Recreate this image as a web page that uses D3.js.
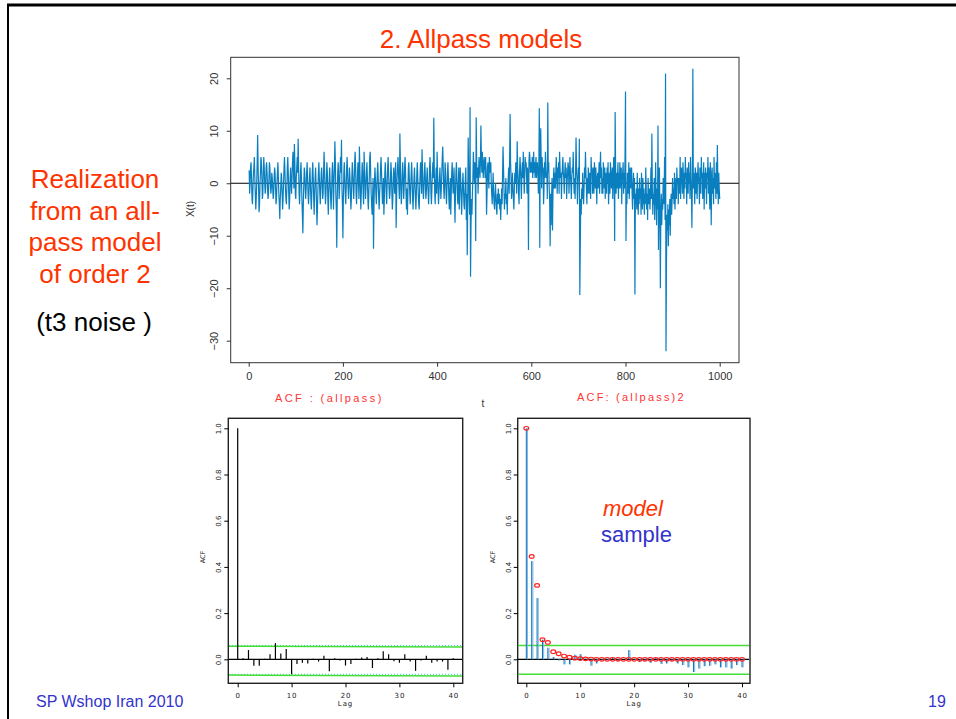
<!DOCTYPE html>
<html>
<head>
<meta charset="utf-8">
<script src="https://d3js.org/d3.v7.min.js"></script>
<style>body{margin:0;background:#fff;overflow:hidden}</style>
</head>
<body>
<script>
// realization X(t), t = 1..1000
var xt = [
2.5,-2,0,3,4,1,-3,-4,-1,2, 3,5,1,-2,-5,-3,0,4,9.2,3, -1,-5.5,-4,0,2,5,4,1,-3,-2, 2,5,3,0,-2,-1,3,4,2,-1, -3,-2,1,4,3,0,-2,-1,2,1,
-1,-3,-2,1,3,2,-1,-4,-3,0, 2,4,1,-2,-4,-6.8,-3,-1,2,1, -2,-5,-3,0,3,5,2,-1,-3,-4, -1,3,5,2,-2,-5,-3,1,3,0, -2,1,4,6,3,-1,7.5,4,-2,-3,
1,3,5,2,8.5,3,-2,-4,-1,2, 4,1,-3,-6,-9.5,-4,0,3,2,-1, -3,-1,2,4,1,-2,-4,-2,1,3, 0,-3,-5,-2,2,4,1,-3,-6,-2, 1,3,0,-4,-8,-5,-1,2,4,1,
-2,-4,-1,2,3,0,-3,-2,2,6, 3,-1,-4,-2,1,4,2,-3,-6,-2, 1,3,0,-3,-5,-2,2,4,1,-5, 0,3,8,4,-2,-5,-12.3,-3,2,4, 1,-3,-1,3,5,2,8.3,-1,-4,-10.5,
-3,2,4,1,-2,-4,-1,3,5,2, -1,-3,0,3,1,-2,-5,-3,1,4, 2,-1,-3,0,4,6,3,-2,-4,-1, 2,4,1,-3,7,3,-1,-5,-2,1, 4,2,-2,-4,6,3,0,-3,-1,2,
4,1,-3,-5,-2,1,5,6,2,-2, -4,-6,-3,1,-12.5,-4,0,3,1,-2, -4,-1,2,4,1,-3,-5,-2,0,3, 5,2,-1,-4,-2,1,-6,-3,2,4, 1,-2,-4,0,3,5,2,-1,-3,-2,
1,4,2,-2,-5,-3,1,3,0,-2, 2,4,-8.5,-3,1,3,5,2,-1,-3, 9.5,4,-1,-4,-2,2,4,1,-3,-1, 3,5,2,-2,-5,-1,-6,-2,3,4, 1,-2,-4,-1,2,4,1,-3,-5,-2,
1,3,0,-3,-5,-2,2,4,1,-2, -4,-5,-1,2,4,1,-2,6.5,3,-1, -3,-1,2,4,1,-3,-2,1,3,0, -2,-4,-1,3,5,2,-2,-4,-1,2, 4,1,12.5,3,-2,-4,0,3,-2,6,
2,-1,-4,-2,1,3,0,-3,-1,2, 5,7,3,-1,-3,0,4,2,-2,-4, -1,2,4,1,-3,-5,-2,1,-6,-2, 2,4,1,-2,0,3,-3,-7.5,-2,2, 4,1,-2,-4,-1,3,-5,-2,3,1,
-2,-6,-3,0,2,-1,-4,-5,-2,1, 3,-7,-2,-13.7,-4,8.7,2,-3,-6,14.5, -17.8,-8,-3,-6,-2,1,6,3,0,4, 2,-11,12.6,4,1,3,-2,2,5,3, 1,4,11,5,2,6,3,1,4,5,
3,1,5,2,-6,-2,3,4,1,-1, 5,3,2,4,0,-2,-4,-1,2,-2, -4,-5,-2,0,-3,-5,-6,-2,-4,-1, -4,-2,-5,-3,-7,-4,-1,-4,2,7, 3,-1,-5,-2,-3,1,-4,-2,-6,-1,
1,3,-2,5,13.2,4,1,-3,-1,2, -1,-3,-5,-1,2,0,4,1,-2,8, 3,1,-2,-4,2,5,3,0,-3,2, 4,1,6,2,-2,1,5,3,4,1, -2,3,1,-12.7,4,6,5,2,3,4,
2,5,1,3,6,2,4,1,3,5, 1,3,4,2,-2,3,14.3,-12.3,6,10.5, 4,-1,5,2,3,-4,-1,4,1,6, 3,1,2,-3,15.4,2,4,-1,-3,-12, -2,-8,-3,1,-9,-2,1,3,-1,2,
-1,2,5,1,-2,3,1,4,-2,6, 3,1,2,-3,1,3,5,2,1,-2, 2,4,1,3,-3,0,2,4,3,-2, 1,5,2,0,-3,1,3,2,6,1, -2,1,-3,2,8.7,3,1,-4,-1,3,
1,8.5,-21.3,-12,-3,-6,-1,-3,2,-2, -4,-1,3,1,6,2,-1,-4,1,-2, 3,1,-2,2,0,-3,5,2,3,-2, 1,3,-2,4,2,-1,3,0,-4,1, 2,-1,1,4,-2,2,6,1,3,-2,
1,-2,4,2,-1,3,-3,1,2,-2, 3,0,4,-4,-1,2,-2,4,2,-1, 1,3,-3,1,5,2,-11,13.6,3,-2, 2,-1,1,4,-3,2,-1,4,1,-1, 3,-4,1,2,4,-2,2,-1,5,17.5,
-11,-2,-4,2,1,-2,4,-3,1,3, -1,1,3,-2,-5,-1,2,-3,1,-21.2, -2,-4,-1,-5,2,-2,-6,-1,-4,1, -3,-1,-6,2,-2,-5,1,-4,-1,-6, -2,-4,3,-1,-5,-2,-7,1,-3,-4,
-1,-5,-2,3,-3,9.5,-1,-6,-2,-4, 1,-7,-2,4,-3,-8,-1,-5,11,-12.7, -4,3,-5,-20,-6,-2,-8,-3,-5,1, -4,-3,5,-7,20.9,-32,-15,-6,-9,-4, -12,-5,-8,-3,-10,-4,-2,-6,-3,1,
-3,-1,-4,2,-5,-2,1,-3,3,0, 1,-4,1,0,-2,5,-3,1,3,1, -2,4,1,-3,2,-1,5,1,2,-4, 3,1,-2,4,0,2,-3,5,1,-2, -8.5,1,21.8,-1,2,0,-4,3,2,-2,
2,-3,1,4,1,0,-4,3,2,-2, 5,1,2,-3,0,4,-5,2,-1,3, 1,-4,2,1,5,-2,3,-1,-5,4, 2,-8,0,3,-2,1,-4,5,-1,2, 0,-3,4,-2,7.3,1,-4,2,-1,-3
];
var xTicks = [0, 200, 400, 600, 800, 1000];
var yTicks = [-30, -20, -10, 0, 10, 20];

// ACF lag 0..40
var acfAllpass = [1.0,0.005,0.04,-0.028,-0.028,0.002,0.022,0.07,0.025,0.045,
  -0.065,-0.02,-0.015,-0.018,0.002,-0.01,0.015,-0.052,0.005,-0.005,
  -0.027,-0.02,0.002,0.008,0.01,-0.038,0.005,0.035,0.022,-0.008,
  -0.015,0.022,-0.01,-0.05,-0.005,0.015,-0.015,-0.01,-0.01,-0.045,0.005];
var acfSquared = [1.0,0.425,0.265,0.085,0.05,0.01,-0.005,-0.022,-0.022,0.02,
  0.022,0.002,-0.028,-0.018,-0.005,-0.003,0.008,-0.008,0.0,0.04,
  -0.003,-0.012,-0.008,-0.015,0.005,-0.02,-0.018,-0.008,-0.018,-0.025,
  -0.035,-0.055,-0.04,-0.03,-0.028,-0.022,-0.035,-0.035,-0.04,-0.025,-0.035];
var acfModel = [1.0,0.445,0.32,0.085,0.073,0.033,0.024,0.014,0.009,0.005,
  0.003,0.002,0.001,0,0,0,0,0,0,0,0,0,0,0,0,0,0,0,0,0,0,0,0,0,0,0,0,0,0,0,0];
var bandUp = 0.06, bandLo = -0.065;
var lagTicks = [0, 10, 20, 30, 40];
var acfTicks = [0.0, 0.2, 0.4, 0.6, 0.8, 1.0];

var W = 956, H = 719;
var svg = d3.select('body').append('svg').attr('width', W).attr('height', H)
  .style('font-family', '"Liberation Sans", Arial, sans-serif');

// slide border
svg.append('line').attr('x1', 7).attr('x2', W).attr('y1', 5).attr('y2', 5).attr('stroke', '#000').attr('stroke-width', 3);
svg.append('line').attr('x1', 8).attr('x2', 8).attr('y1', 4).attr('y2', H).attr('stroke', '#000').attr('stroke-width', 2);

svg.append('text').attr('x', 481).attr('y', 48).attr('text-anchor', 'middle')
  .attr('font-size', 26).attr('fill', '#ff3300').text('2. Allpass models');

var side = ['Realization', 'from an all-', 'pass model', 'of order 2'];
side.forEach(function(s, i) {
  svg.append('text').attr('x', 95).attr('y', 188 + i * 31.5).attr('text-anchor', 'middle')
    .attr('font-size', 26).attr('fill', '#ff3300').text(s);
});
svg.append('text').attr('x', 94).attr('y', 331).attr('text-anchor', 'middle')
  .attr('font-size', 26).attr('fill', '#000').text('(t3 noise )');

svg.append('text').attr('x', 36).attr('y', 707).attr('font-size', 16).attr('fill', '#3333cc').text('SP Wshop Iran 2010');
svg.append('text').attr('x', 928).attr('y', 707).attr('font-size', 16).attr('fill', '#3333cc').text('19');

// ---- top series plot
var fx = {l: 230.7, r: 739, t: 57.3, b: 362.7};
var x = d3.scaleLinear().domain([0, 1000]).range([248.7, 719.7]);
var y = d3.scaleLinear().domain([-30, 20]).range([340.7, 78.3]);
var tp = svg.append('g');

tp.append('line').attr('x1', fx.l).attr('x2', fx.r).attr('y1', y(0)).attr('y2', y(0)).attr('stroke', '#000').attr('stroke-width', 1);
tp.append('path').datum(xt)
  .attr('d', d3.line().x(function(d, i) { return x(i + 1); }).y(function(d) { return y(d); }))
  .attr('fill', 'none').attr('stroke', '#0a7fc0').attr('stroke-width', 1.2);
tp.append('rect').attr('x', fx.l).attr('y', fx.t).attr('width', fx.r - fx.l).attr('height', fx.b - fx.t)
  .attr('fill', 'none').attr('stroke', '#333').attr('stroke-width', 1);

var xa0 = tp.append('g').attr('transform', 'translate(0,' + fx.b + ')')
  .call(d3.axisBottom(x).tickValues(xTicks).tickSize(4).tickPadding(6).tickFormat(d3.format('d')));
xa0.select('.domain').remove();
xa0.selectAll('text').attr('font-size', 11).attr('fill', '#333').attr('font-family', '"Liberation Sans", Arial, sans-serif');
xa0.selectAll('line').attr('stroke', '#333');

var ya = tp.append('g').attr('transform', 'translate(' + fx.l + ',0)')
  .call(d3.axisLeft(y).tickValues(yTicks).tickSize(4).tickFormat(d3.format('d')));
ya.select('.domain').remove();
ya.selectAll('line').attr('stroke', '#333');
ya.selectAll('text').attr('font-size', 11).attr('fill', '#333').attr('font-family', '"Liberation Sans", Arial, sans-serif')
  .attr('x', 0).attr('dy', 0).attr('y', 0).attr('text-anchor', 'middle').attr('dominant-baseline', 'middle')
  .attr('transform', 'translate(-16,0) rotate(-90)');

tp.append('text').attr('transform', 'translate(194,209) rotate(-90)').attr('text-anchor', 'middle')
  .attr('font-size', 10).attr('fill', '#333').text('X(t)');
tp.append('text').attr('x', 483).attr('y', 407).attr('text-anchor', 'middle').attr('font-size', 10).attr('fill', '#333').text('t');

svg.append('text').attr('x', 275).attr('y', 402).attr('font-size', 11).attr('letter-spacing', 2.4)
  .attr('fill', '#ff3333').text('ACF : (allpass)');
svg.append('text').attr('x', 577).attr('y', 401).attr('font-size', 11).attr('letter-spacing', 2.2)
  .attr('fill', '#ff3333').text('ACF: (allpass)2');

// ---- ACF panels
function acfPanel(f, x0, x40) {
  var g = svg.append('g');
  var lx = d3.scaleLinear().domain([0, 40]).range([x0, x40]);
  var ly = d3.scaleLinear().domain([0, 1]).range([659.3, 428.3]);
  g.append('rect').attr('x', f.l).attr('y', f.t).attr('width', f.r - f.l).attr('height', f.b - f.t)
    .attr('fill', 'none').attr('stroke', '#222').attr('stroke-width', 1.4);
  var xa = g.append('g').attr('transform', 'translate(0,' + f.b + ')')
    .call(d3.axisBottom(lx).tickValues(lagTicks).tickSize(4).tickPadding(6));
  xa.select('.domain').remove();
  xa.selectAll('text').attr('font-size', 7).attr('letter-spacing', 0.9).attr('fill', '#222')
    .attr('font-family', '"DejaVu Sans", sans-serif');
  var yb = g.append('g').attr('transform', 'translate(' + f.l + ',0)')
    .call(d3.axisLeft(ly).tickValues(acfTicks).tickSize(4).tickFormat(d3.format('.1f')));
  yb.select('.domain').remove();
  yb.selectAll('text').attr('font-size', 7).attr('fill', '#222').attr('font-family', '"DejaVu Sans", sans-serif')
    .attr('x', 0).attr('dy', 0).attr('y', 0).attr('text-anchor', 'middle').attr('dominant-baseline', 'middle')
    .attr('transform', 'translate(-9,0) rotate(-90)');
  g.append('text').attr('x', (x0 + x40) / 2).attr('y', 706).attr('text-anchor', 'middle')
    .attr('font-size', 7).attr('letter-spacing', 0.9).attr('fill', '#222').attr('font-family', '"DejaVu Sans", sans-serif').text('Lag');
  g.append('text').attr('transform', 'translate(' + (f.l - 23) + ',557) rotate(-90)').attr('text-anchor', 'middle')
    .attr('font-size', 6.5).attr('fill', '#222').attr('font-family', '"DejaVu Sans", sans-serif').text('ACF');
  return {g: g, lx: lx, ly: ly};
}

var pL = acfPanel({l: 228.3, r: 462.7, t: 418.3, b: 683.3}, 237.7, 453.3);
[bandUp, bandLo].forEach(function(v) {
  pL.g.append('line').attr('x1', 229).attr('x2', 462).attr('y1', pL.ly(v)).attr('y2', pL.ly(v))
    .attr('stroke', '#33ccdd').attr('stroke-width', 1).attr('stroke-dasharray', '1,2');
  pL.g.append('line').attr('x1', 229).attr('x2', 462).attr('y1', pL.ly(v) + 0.8).attr('y2', pL.ly(v) + 1.6)
    .attr('stroke', '#44dd33').attr('stroke-width', 1.5);
});
pL.g.append('line').attr('x1', 229).attr('x2', 462).attr('y1', pL.ly(0)).attr('y2', pL.ly(0)).attr('stroke', '#000').attr('stroke-width', 1.3);
pL.g.selectAll('.bar').data(acfAllpass).enter().append('line')
  .attr('x1', function(d, i) { return pL.lx(i); }).attr('x2', function(d, i) { return pL.lx(i); })
  .attr('y1', pL.ly(0)).attr('y2', function(d) { return pL.ly(d); })
  .attr('stroke', '#000').attr('stroke-width', 1.2);

var pR = acfPanel({l: 517.7, r: 750, t: 418.3, b: 683.3}, 526.3, 742);
[bandUp, bandLo].forEach(function(v) {
  pR.g.append('line').attr('x1', 518).attr('x2', 749).attr('y1', pR.ly(v)).attr('y2', pR.ly(v))
    .attr('stroke', '#44dd33').attr('stroke-width', 1.5);
});
pR.g.append('line').attr('x1', 518).attr('x2', 749).attr('y1', pR.ly(0)).attr('y2', pR.ly(0)).attr('stroke', '#000').attr('stroke-width', 1.3);
pR.g.selectAll('.light').data(acfSquared).enter().append('line')
  .attr('x1', function(d, i) { return pR.lx(i) + 1.2; }).attr('x2', function(d, i) { return pR.lx(i) + 1.2; })
  .attr('y1', pR.ly(0)).attr('y2', function(d) { return pR.ly(d); })
  .attr('stroke', '#7fb8e2').attr('stroke-width', 1);
pR.g.selectAll('.dark').data(acfSquared).enter().append('line')
  .attr('x1', function(d, i) { return pR.lx(i); }).attr('x2', function(d, i) { return pR.lx(i); })
  .attr('y1', pR.ly(0)).attr('y2', function(d) { return pR.ly(d); })
  .attr('stroke', '#0a70b8').attr('stroke-width', 1);
pR.g.selectAll('.pt').data(acfModel).enter().append('ellipse')
  .attr('cx', function(d, i) { return pR.lx(i); }).attr('cy', function(d) { return pR.ly(d); })
  .attr('rx', 2.4).attr('ry', 1.8).attr('fill', 'none').attr('stroke', '#ff2020').attr('stroke-width', 1.2);

svg.append('text').attr('x', 603).attr('y', 516).attr('font-size', 22).attr('font-style', 'italic')
  .attr('fill', '#ff3300').text('model');
svg.append('text').attr('x', 601).attr('y', 542).attr('font-size', 22).attr('fill', '#3333cc').text('sample');
</script>
</body>
</html>
